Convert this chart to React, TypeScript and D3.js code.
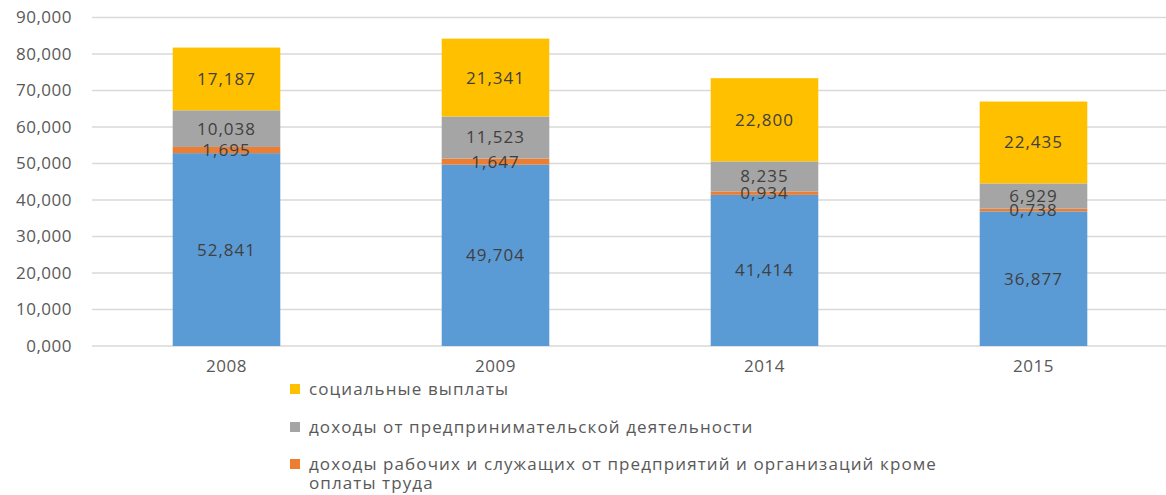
import React from 'react';
import * as d3 from 'd3';

const years = ['2008', '2009', '2014', '2015'];
const wages = [52.841, 49.704, 41.414, 36.877];
const otherIncome = [1.695, 1.647, 0.934, 0.738];
const business = [10.038, 11.523, 8.235, 6.929];
const social = [17.187, 21.341, 22.8, 22.435];
const yTicks = [0, 10, 20, 30, 40, 50, 60, 70, 80, 90];

const seriesNames = ['wages', 'otherIncome', 'business', 'social'];
const seriesColors = ['#5B9BD5', '#ED7D31', '#A5A5A5', '#FFC000'];
const legendItems = [
    { key: 'social', lines: ['социальные выплаты'] },
    { key: 'business', lines: ['доходы от предпринимательской деятельности'] },
    { key: 'otherIncome', lines: ['доходы рабочих и служащих от предприятий и организаций кроме', 'оплаты труда'] },
];

const W = 1166;
const H = 495;
// 52.841 -> "52,841" (russian style, comma as decimal mark)
const fmt = (v: number) => d3.format('.3f')(v).replace('.', ',');

export default function App() {
    const ref = React.useRef<SVGSVGElement>(null);

    React.useEffect(() => {
        const svg = d3.select(ref.current);
        svg.selectAll('*').remove();

        const rows = years.map((y, i) => ({
            year: y, wages: wages[i], otherIncome: otherIncome[i], business: business[i], social: social[i],
        }));
        const stacked = d3.stack<any>().keys(seriesNames)(rows);

        const x = d3.scaleBand().domain(years).range([92, 1168]).paddingInner(0.6).paddingOuter(0.3);
        const y = d3.scaleLinear().domain([0, 90]).range([346, 17.5]);
        const color = d3.scaleOrdinal<string>().domain(seriesNames).range(seriesColors);

        // gridlines
        svg.append('g').selectAll('line').data(yTicks).enter().append('line')
            .attr('x1', 92).attr('x2', W)
            .attr('y1', d => y(d)).attr('y2', d => y(d))
            .attr('stroke', '#D9D9D9').attr('stroke-width', 1.3);

        // y labels
        svg.append('g').selectAll('text').data(yTicks).enter().append('text')
            .attr('x', 72).attr('y', d => y(d)).attr('dy', '0.35em')
            .attr('text-anchor', 'end').attr('fill', '#595959')
            .style('font', '17px "Open Sans", sans-serif')
            .style('letter-spacing', '0.5px')
            .text(d => fmt(d));

        // bars
        const groups = svg.append('g').selectAll('g').data(stacked).enter().append('g')
            .attr('fill', d => color(d.key));
        groups.selectAll('rect').data(d => d).enter().append('rect')
            .attr('x', d => x(d.data.year)!)
            .attr('width', x.bandwidth())
            .attr('y', d => y(d[1]))
            .attr('height', d => y(d[0]) - y(d[1]));

        // data labels
        stacked.forEach(s => {
            svg.append('g').selectAll('text').data(s).enter().append('text')
                .attr('x', d => x(d.data.year)! + x.bandwidth() / 2)
                .attr('y', d => y((d[0] + d[1]) / 2))
                .attr('dy', '0.35em')
                .attr('text-anchor', 'middle')
                .attr('fill', '#404040')
                .style('font', '17px "Open Sans", sans-serif')
                .style('letter-spacing', '1px')
                .text(d => fmt(d[1] - d[0]));
        });

        // x labels
        svg.append('g').selectAll('text').data(years).enter().append('text')
            .attr('x', d => x(d)! + x.bandwidth() / 2).attr('y', 366)
            .attr('dy', '0.35em').attr('text-anchor', 'middle')
            .attr('fill', '#595959')
            .style('font', '17px "Open Sans", sans-serif')
            .style('letter-spacing', '0.5px')
            .text(d => d);

        // legend
        const legendY = [389, 427, 464];
        legendItems.forEach((item, i) => {
            svg.append('rect')
                .attr('x', 290).attr('y', legendY[i] - 5).attr('width', 10).attr('height', 10)
                .attr('fill', color(item.key));
            item.lines.forEach((line, j) => {
                svg.append('text')
                    .attr('x', 309).attr('y', legendY[i] + j * 19).attr('dy', '0.35em')
                    .attr('fill', '#595959')
                    .style('font', '17px "Open Sans", sans-serif')
                    .style('letter-spacing', '1.1px')
                    .text(line);
            });
        });
    }, []);

    return (
        <svg ref={ref} width={W} height={H}
            style={{ position: 'absolute', left: 0, top: 0, background: '#fff' }} />
    );
}
